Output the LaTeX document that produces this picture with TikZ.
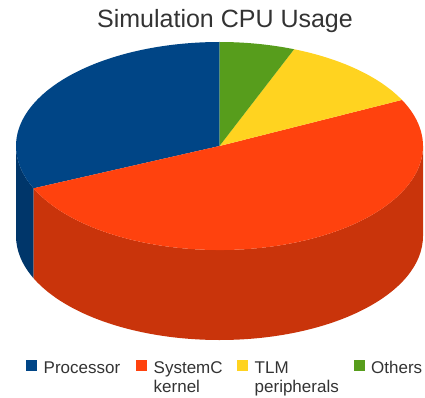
\documentclass[tikz,border=0pt]{standalone}
\usepackage{fontspec}
\setmainfont{Liberation Sans}
\usetikzlibrary{positioning}
\definecolor{cproc}{HTML}{004586}
\definecolor{cprocl}{HTML}{00366A}
\definecolor{ckern}{HTML}{FF420E}
\definecolor{ckernl}{HTML}{C9340B}
\definecolor{ctlm}{HTML}{FFD320}
\definecolor{cotros}{HTML}{579D1C}
\definecolor{ctexto}{HTML}{333333}
\tikzset{
  torta/.style={x radius=203.5, y radius=104},
  cuadro/.style={rectangle, minimum size=11pt, inner sep=0pt, outer sep=0pt},
  etq/.style={font=\fontsize{17}{19.5}\selectfont, text=ctexto, inner sep=0pt,
    anchor=base west, align=left},
  titulo/.style={font=\fontsize{25}{30}\selectfont, text=ctexto, inner sep=0pt, anchor=base},
}

\begin{document}
\begin{tikzpicture}[x=1pt, y=1pt]
  \useasboundingbox (0,0) rectangle (425,397);
  \coordinate (c) at (219.5,251);

  % lateral
  \fill[cprocl] (c) ++(180:203.5 and 104) arc[torta, start angle=180, end angle=204]
    -- ++(0,-90) arc[torta, start angle=204, end angle=180] -- cycle;
  \fill[ckernl] (c) ++(204:203.5 and 104) arc[torta, start angle=204, end angle=360]
    -- ++(0,-90) arc[torta, start angle=360, end angle=204] -- cycle;

  % tapa
  \fill[cproc] (c) -- ++(90:203.5 and 104) arc[torta, start angle=90, end angle=204] -- cycle;
  \fill[ckern] (c) -- ++(204:203.5 and 104) arc[torta, start angle=204, end angle=386.3] -- cycle;
  \fill[ctlm] (c) -- ++(26.3:203.5 and 104) arc[torta, start angle=26.3, end angle=68.5] -- cycle;
  \fill[cotros] (c) -- ++(68.5:203.5 and 104) arc[torta, start angle=68.5, end angle=90] -- cycle;

  \node[titulo] (tit) at (225,369) {Simulation CPU Usage};

  % leyenda (base = ultima linea)
  \node[cuadro, fill=cproc, anchor=south west] (sq1) at (25.5,26.5) {};
  \node[cuadro, fill=ckern, anchor=south west] (sq2) at (136,26.5) {};
  \node[cuadro, fill=ctlm, anchor=south west] (sq3) at (236.5,26.5) {};
  \node[cuadro, fill=cotros, anchor=south west] (sq4) at (353.5,26.5) {};
  \node[etq] (t1) at (43.5,24) {Processor};
  \node[etq] (t2) at (153.5,4.5) {SystemC\\kernel};
  \node[etq] (t3) at (254.5,4.5) {TLM\\peripherals};
  \node[etq] (t4) at (371,24) {Others};
\end{tikzpicture}
\end{document}
